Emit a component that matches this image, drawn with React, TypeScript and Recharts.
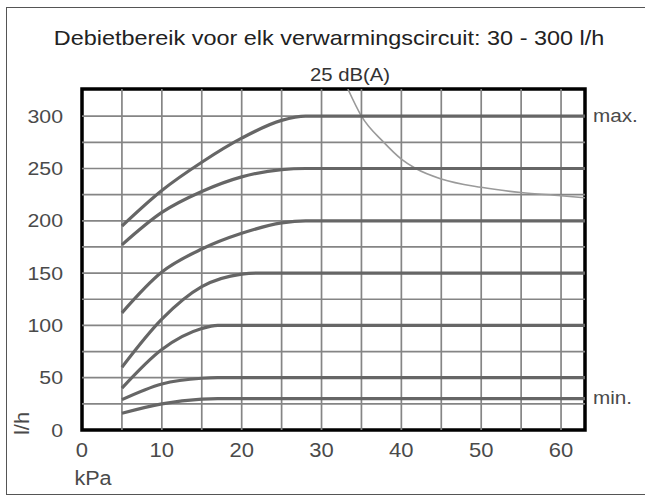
import React from 'react';
import { LineChart, Line, XAxis, YAxis, ReferenceLine, ReferenceArea } from 'recharts';

type Pt = { x: number; y: number };
const pts = (rows: number[][]): Pt[] => rows.map(([x, y]) => ({ x, y }));

// flow curves per setting (kPa -> l/h)
const curveMax = pts([[5, 195], [10, 229], [15, 256], [20, 279], [25, 296], [28, 300], [63, 300]]);
const curve250 = pts([[5, 177], [10, 208], [15, 228], [20, 242], [25, 249], [28, 250], [63, 250]]);
const curve200 = pts([[5, 112], [10, 151], [15, 173], [20, 188], [25, 198], [28, 200], [63, 200]]);
const curve150 = pts([[5, 60], [10, 106], [15, 137], [20, 149], [22, 150], [63, 150]]);
const curve100 = pts([[5, 40], [10, 77], [15, 97], [17, 100], [63, 100]]);
const curve50 = pts([[5, 29], [10, 44], [15, 49.5], [17, 50], [63, 50]]);
const curveMin = pts([[5, 16], [10, 25], [15, 29.5], [17, 30], [63, 30]]);

// 25 dB(A) noise limit
const noiseCurve = pts([[33.3, 326], [35, 300], [37.8, 275], [40, 259], [41.8, 250], [45, 240], [50, 232], [55, 227], [60, 224], [63, 222]]);

const flowCurves = [curveMax, curve250, curve200, curve150, curve100, curve50, curveMin];

const xTicks = [0, 10, 20, 30, 40, 50, 60];
const yTicks = [0, 50, 100, 150, 200, 250, 300];
const xGrid = [5, 10, 15, 20, 25, 30, 35, 40, 45, 50, 55, 60];
const yGrid = [25, 50, 75, 100, 125, 150, 175, 200, 225, 250, 275, 300];
const X_MAX = 63;
const Y_MAX = 326;

const font = '"Liberation Sans", Arial, sans-serif';
const textColor = '#4a4a4a';
// the source lettering is a bit wider than Arial, so stretch it horizontally
const stretch = (x: number, s: number) => `translate(${x} 0) scale(${s} 1) translate(${-x} 0)`;

const XTick = (props: any) => {
  const { x, y, payload } = props;
  return (
    <text x={x} y={y} dy="0.71em" textAnchor="middle" fill={textColor} fontSize={20} fontFamily={font} transform={stretch(x, 1.1)}>
      {payload.value}
    </text>
  );
};

const YTick = (props: any) => {
  const { x, y, payload } = props;
  return (
    <text x={x} y={y} dy="0.355em" textAnchor="end" fill={textColor} fontSize={18.5} fontFamily={font} transform={stretch(x, 1.15)}>
      {payload.value}
    </text>
  );
};

const SideLabel = (props: any) => {
  const { viewBox, value } = props;
  const x = viewBox.x + viewBox.width + 8;
  const y = viewBox.y;
  return (
    <text x={x} y={y} dy="0.3em" textAnchor="start" fill={textColor} fontSize={18.5} fontFamily={font} transform={stretch(x, 1.12)}>
      {value}
    </text>
  );
};

export default function App() {
  return (
    <div style={{ position: 'absolute', left: 0, top: 0, width: 645, height: 496, background: '#fff', fontFamily: font }}>
      <div style={{ position: 'absolute', left: 6, top: 7, width: 640, height: 488, border: '1.5px solid #555', boxSizing: 'border-box' }} />
      <div style={{ position: 'absolute', left: 4, width: 650, top: 26, textAlign: 'center', fontSize: 21, color: '#222', transform: 'scaleX(1.115)' }}>
        Debietbereik voor elk verwarmingscircuit: 30 - 300 l/h
      </div>
      <div style={{ position: 'absolute', left: 300, width: 100, top: 64, textAlign: 'center', fontSize: 19, color: '#333', transform: 'scaleX(1.07)' }}>
        25 dB(A)
      </div>
      <div style={{ position: 'absolute', left: 63, width: 60, top: 467, textAlign: 'center', fontSize: 20, color: textColor, transform: 'scaleX(1.08)' }}>
        kPa
      </div>
      <div style={{ position: 'absolute', left: 2, width: 40, top: 412, textAlign: 'center', fontSize: 20, color: textColor, transform: 'rotate(-90deg) scaleX(1.1)' }}>
        l/h
      </div>
      <LineChart width={645} height={496} margin={{ top: 89, right: 60, bottom: 0, left: 0 }} style={{ position: 'absolute', left: 0, top: 0 }}>
        <XAxis type="number" dataKey="x" domain={[0, X_MAX]} ticks={xTicks} allowDataOverflow
          axisLine={false} tickLine={false} tickMargin={7} height={66} tick={<XTick />} />
        <YAxis type="number" dataKey="y" domain={[0, Y_MAX]} ticks={yTicks} allowDataOverflow
          axisLine={false} tickLine={false} tickMargin={13} width={82} tick={<YTick />} />
        {xGrid.map((v) => (
          <ReferenceLine key={'gx' + v} x={v} stroke="#858585" strokeWidth={1.7} />
        ))}
        {yGrid.map((v) => (
          <ReferenceLine key={'gy' + v} y={v} stroke="#858585" strokeWidth={1.7} />
        ))}
        <Line data={noiseCurve} dataKey="y" type="monotone" stroke="#9a9a9a" strokeWidth={1.6} dot={false} isAnimationActive={false} />
        {flowCurves.map((d, i) => (
          <Line key={i} data={d} dataKey="y" type="monotone" stroke="#666" strokeWidth={3.2} dot={false} isAnimationActive={false} />
        ))}
        <ReferenceLine y={300} stroke="none" label={<SideLabel value="max." />} />
        <ReferenceLine y={30} stroke="none" label={<SideLabel value="min." />} />
        <ReferenceArea x1={0} x2={X_MAX} y1={0} y2={Y_MAX} fill="none" stroke="#000" strokeWidth={3.5} />
      </LineChart>
    </div>
  );
}
